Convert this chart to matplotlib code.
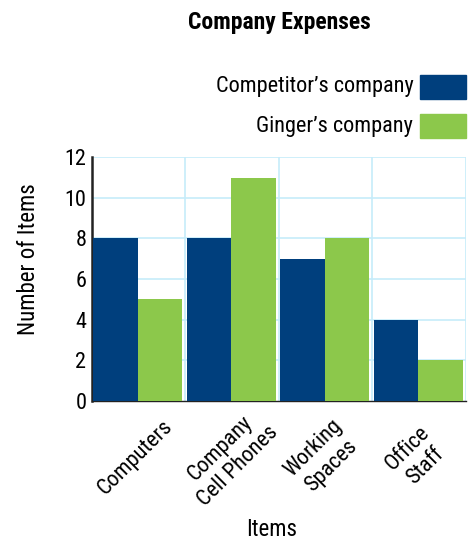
import matplotlib
matplotlib.use('Agg')
from matplotlib import pyplot as plt
from matplotlib import transforms
from matplotlib.patches import Rectangle
import numpy as np

plt.rcParams['font.family'] = ['Roboto Condensed', 'DejaVu Sans']

# Chart data
categories = ['Computers', 'Company\nCell Phones', 'Working\nSpaces', 'Office\nStaff']
competitor = [8, 8, 7, 4]
ginger = [5, 11, 8, 2]
series_names = ["Competitor\u2019s company", "Ginger\u2019s company"]

DARK = '#003f7d'
GREEN = '#8cc84b'
GRID = '#c6ecfa'

fig = plt.figure(figsize=(4.74, 5.42), dpi=100)
ax = fig.add_axes([0.194, 0.260, 0.789, 0.450])

x = np.arange(len(categories))
ax.bar(x + 0.012, competitor, width=0.478, align='edge', color=DARK, zorder=3)
ax.bar(x + 0.49, ginger, width=0.475, align='edge', color=GREEN, zorder=3)

ax.set_xlim(0, len(categories))
ax.set_ylim(0, 12)
ax.set_yticks(range(0, 13, 2))
ax.set_xticks(x + 0.5)

# light blue grid on every boundary
for yv in range(2, 13, 2):
    ax.axhline(yv, color=GRID, lw=1.2, zorder=1)
for xv in range(0, len(categories) + 1):
    ax.axvline(xv, color=GRID, lw=1.2, zorder=1)

for side in ['top', 'right']:
    ax.spines[side].set_visible(False)
ax.spines['left'].set_linewidth(1.8)
ax.spines['left'].set_color('#222222')
# bottom spine sits under the bars, only showing in the gaps
ax.spines['bottom'].set_linewidth(1.0)
ax.spines['bottom'].set_color('#222222')
ax.spines['bottom'].set_zorder(2)

ax.tick_params(axis='y', length=0, labelsize=16, pad=4)
ax.tick_params(axis='x', which='major', length=0, labelsize=16, pad=0)

labels = ax.set_xticklabels(categories, rotation=45, ha='center', va='center',
                            rotation_mode='anchor', multialignment='center')
offset = transforms.ScaledTranslation(-0.03, -0.56, fig.dpi_scale_trans)
for lab in labels:
    lab.set_transform(lab.get_transform() + offset)
    lab.set_linespacing(1.3)

ax.set_ylabel('Number of Items', fontsize=16.5)
ax.yaxis.set_label_coords(-0.139, 0.582)
ax.set_xlabel('Items', fontsize=16.5)
ax.xaxis.set_label_coords(0.481, -0.478)

fig.text(0.59, 0.958, 'Company Expenses', ha='center', va='center',
         fontsize=17, fontweight='bold')

# legend: right-aligned labels with swatches to the right
legend_y = [0.84, 0.767]
for name, col, yy in zip(series_names, [DARK, GREEN], legend_y):
    fig.text(0.872, yy, name, ha='right', va='center', fontsize=16)
    fig.patches.append(Rectangle((0.886, yy - 0.022), 0.097, 0.044,
                                 transform=fig.transFigure, color=col))

fig.savefig('out.png', dpi=100)
